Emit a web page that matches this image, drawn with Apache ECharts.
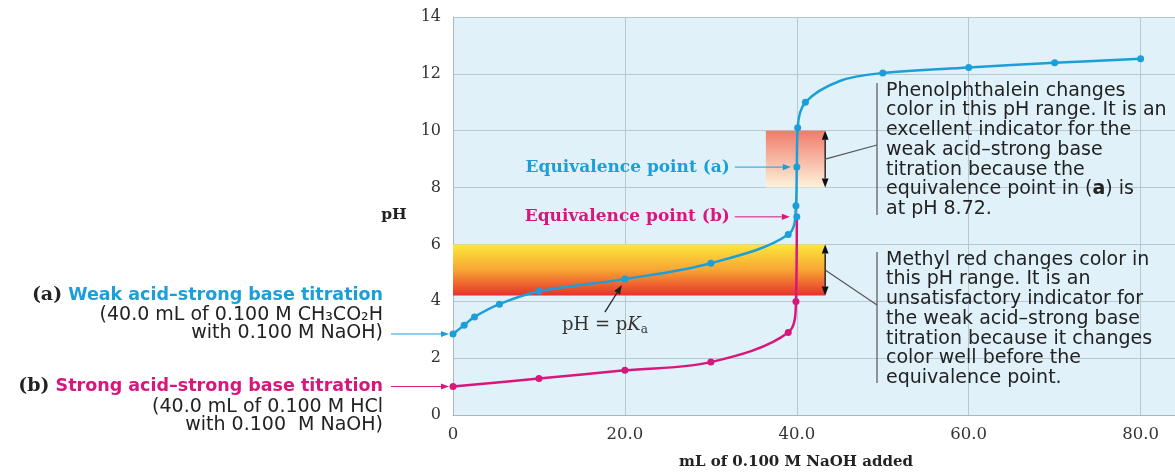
<!DOCTYPE html>
<html>
<head>
<meta charset="utf-8">
<script src="https://cdn.jsdelivr.net/npm/echarts@6.0.0/dist/echarts.min.js"></script>
<style>
  html, body { margin: 0; padding: 0; background: #fff; }
  #chart { width: 1175px; height: 475px; }
</style>
</head>
<body>
<div id="chart"></div>
<script>
// (a) weak acid: 40.0 mL 0.100 M CH3CO2H + 0.100 M NaOH
const volWeak = [0, 1.3, 2.5, 5.4, 10, 20, 30, 39, 39.9, 40, 40.1, 41, 45, 50, 60, 70, 80];
const phWeak = [2.85, 3.16, 3.45, 3.9, 4.35, 4.78, 5.34, 6.35, 7.36, 8.72, 10.1, 11.0, 11.75, 12.03, 12.22, 12.39, 12.53];
// no dot drawn at these volumes in the figure
const weakNoDot = [45];

// (b) strong acid: 40.0 mL 0.100 M HCl + 0.100 M NaOH
const volStrong = [0, 10, 20, 30, 39, 39.9, 40];
const phStrong = [1.0, 1.28, 1.57, 1.86, 2.9, 3.99, 6.97];

// indicator ranges [pH low, pH high] and the mL span of the shaded box
const phenolPH = [8.0, 10.0];
const phenolVol = [36.4, 43.3];
const methylPH = [4.2, 6.0];
const methylVol = [0, 43.3];

const eqA = [40, 8.72];
const eqB = [40, 6.97];
const halfEq = [20, 4.78];

const xTicks = [0, 20, 40, 60, 80];

const BLUE = '#1c9fd9';
const PINK = '#d8177c';
const SERIF = '"DejaVu Serif", serif';
const SANS = '"DejaVu Sans", sans-serif';
const FS = 19; // sans body text size

const chart = echarts.init(document.getElementById('chart'));

const weakData = volWeak.map((v, i) => {
  const item = { value: [v, phWeak[i]] };
  if (weakNoDot.includes(v)) item.symbolSize = 0;
  return item;
});
const strongData = volStrong.map((v, i) => {
  const item = { value: [v, phStrong[i]] };
  // the (b) equivalence dot sits on the blue curve
  if (v === eqB[0] && phStrong[i] === eqB[1]) item.itemStyle = { color: BLUE };
  return item;
});

chart.setOption({
  animation: false,
  grid: {
    left: 453, right: 0, top: 17, bottom: 58,
    show: true, backgroundColor: '#e0f1fa', borderWidth: 0
  },
  xAxis: {
    type: 'value', min: 0, max: 84, interval: 20,
    axisLine: { lineStyle: { color: '#a9b8c0' } },
    axisTick: { show: false },
    splitLine: { lineStyle: { color: '#b9c8cf' } },
    axisLabel: {
      showMaxLabel: false, margin: 11,
      fontFamily: SERIF, fontSize: 16.5, color: '#333',
      formatter: v => xTicks.includes(v) ? (v === 0 ? '0' : v.toFixed(1)) : ''
    },
    name: 'mL of 0.100 M NaOH added',
    nameLocation: 'middle', nameGap: 40,
    nameTextStyle: { fontFamily: SERIF, fontWeight: 'bold', fontSize: 15, color: '#222', padding: [0, 36, 0, 0] }
  },
  yAxis: {
    type: 'value', min: 0, max: 14, interval: 2,
    axisLine: { show: true, lineStyle: { color: '#a9b8c0' } },
    axisTick: { show: false },
    splitLine: { lineStyle: { color: '#b9c8cf' } },
    axisLabel: { margin: 12, fontFamily: SERIF, fontSize: 16, color: '#333' }
  },
  series: [
    {
      type: 'line', data: [], z: 1, silent: true,
      markArea: {
        silent: true,
        data: [
          [
            { coord: [phenolVol[0], phenolPH[1]], itemStyle: {
              color: new echarts.graphic.LinearGradient(0, 0, 0, 1, [
                { offset: 0, color: '#ef7c6a' }, { offset: 1, color: '#fdf3dc' }
              ]) } },
            { coord: [phenolVol[1], phenolPH[0]] }
          ],
          [
            { coord: [methylVol[0], methylPH[1]], itemStyle: {
              color: new echarts.graphic.LinearGradient(0, 0, 0, 1, [
                { offset: 0, color: '#fde93c' }, { offset: 0.5, color: '#f7a534' }, { offset: 1, color: '#e8302c' }
              ]) } },
            { coord: [methylVol[1], methylPH[0]] }
          ]
        ]
      }
    },
    {
      name: 'strong', type: 'line', z: 3, data: strongData,
      smooth: 0.35,
      lineStyle: { color: PINK, width: 2.5 },
      itemStyle: { color: PINK },
      symbol: 'circle', symbolSize: 7
    },
    {
      name: 'weak', type: 'line', z: 4, data: weakData,
      smooth: 0.35,
      lineStyle: { color: BLUE, width: 2.5 },
      itemStyle: { color: BLUE },
      symbol: 'circle', symbolSize: 7
    }
  ]
});

const px = (x, y) => chart.convertToPixel({ gridIndex: 0 }, [x, y]);

function arrow(x1, y1, x2, y2, color, head, w) {
  head = head || 8; w = w || 1;
  const a = Math.atan2(y2 - y1, x2 - x1);
  const hx = x2 - head * Math.cos(a), hy = y2 - head * Math.sin(a);
  const nx = -Math.sin(a) * head * 0.38, ny = Math.cos(a) * head * 0.38;
  return [
    { type: 'line', z: 100, shape: { x1, y1, x2: hx, y2: hy }, style: { stroke: color, lineWidth: w } },
    { type: 'polygon', z: 100, shape: { points: [[x2, y2], [hx + nx, hy + ny], [hx - nx, hy - ny]] }, style: { fill: color } }
  ];
}
function dblArrow(x, yTop, yBot) {
  const mid = (yTop + yBot) / 2;
  return arrow(x, mid, x, yTop, '#111', 9, 1.3).concat(arrow(x, mid, x, yBot, '#111', 9, 1.3));
}
function seg(x1, y1, x2, y2) {
  return { type: 'line', z: 100, shape: { x1, y1, x2, y2 }, style: { stroke: '#555', lineWidth: 1.2 } };
}
function txt(x, y, text, opt) {
  return {
    type: 'text', z: 100, x, y,
    style: Object.assign({
      text, fontFamily: SANS, fontSize: FS, fill: '#222',
      align: 'left', verticalAlign: 'middle'
    }, opt || {})
  };
}

const g = [];
const rich = {
  s: { fontFamily: SERIF, fontWeight: 'bold', fontSize: 19, fill: '#222' },
  blue: { fontFamily: SANS, fontWeight: 'bold', fontSize: 17.5, fill: BLUE },
  pink: { fontFamily: SANS, fontWeight: 'bold', fontSize: 17.5, fill: PINK }
};

// left-hand labels
const pA = px(volWeak[0], phWeak[0]);
const pB = px(volStrong[0], phStrong[0]);
g.push(txt(383, 295, '{s|(a)} {blue|Weak acid–strong base titration}', { align: 'right', rich }));
g.push(txt(383, 315, '(40.0 mL of 0.100 M CH₃CO₂H', { align: 'right' }));
g.push(txt(383, 333, 'with 0.100 M NaOH)', { align: 'right' }));
g.push(...arrow(391, pA[1], pA[0] - 4, pA[1], BLUE, 8, 1));
g.push(txt(383, 386, '{s|(b)} {pink|Strong acid–strong base titration}', { align: 'right', rich }));
g.push(txt(383, 407, '(40.0 mL of 0.100 M HCl', { align: 'right' }));
g.push(txt(383, 425, 'with 0.100  M NaOH)', { align: 'right' }));
g.push(...arrow(391, pB[1], pB[0] - 4, pB[1], PINK, 8, 1));

// y axis title
g.push(txt(394, 215, 'pH', { fontFamily: SERIF, fontWeight: 'bold', fontSize: 15.5, align: 'center' }));

// equivalence points
const pEA = px(eqA[0], eqA[1]);
const pEB = px(eqB[0], eqB[1]);
const eqFont = { fontFamily: SERIF, fontWeight: 'bold', fontSize: 17, align: 'right' };
g.push(txt(pEA[0] - 67, pEA[1], 'Equivalence point (a)', Object.assign({ fill: BLUE }, eqFont)));
g.push(...arrow(pEA[0] - 62, pEA[1], pEA[0] - 6, pEA[1], BLUE, 8, 1));
g.push(txt(pEB[0] - 67, pEB[1], 'Equivalence point (b)', Object.assign({ fill: PINK }, eqFont)));
g.push(...arrow(pEB[0] - 62, pEB[1], pEB[0] - 7, pEB[1], PINK, 8, 1));

// pH = pKa
const pH = px(halfEq[0], halfEq[1]);
g.push(txt(pH[0] - 20, pH[1] + 46, 'pH = p{i|K}{sub|a}', {
  fontFamily: SERIF, fontSize: 18, align: 'center', fill: '#333',
  rich: {
    i: { fontFamily: SERIF, fontStyle: 'italic', fontSize: 18, fill: '#333' },
    sub: { fontFamily: SERIF, fontSize: 12, fill: '#333', padding: [10, 0, 0, 0] }
  }
}));
g.push(...arrow(pH[0] - 20, pH[1] + 33, pH[0] - 3, pH[1] + 6, '#222', 9, 1.3));

// phenolphthalein range callout
const phTop = px(phenolVol[1], phenolPH[1]);
const phBot = px(phenolVol[1], phenolPH[0]);
const phMid = (phTop[1] + phBot[1]) / 2;
g.push(...dblArrow(phTop[0], phTop[1], phBot[1]));
g.push(seg(phTop[0], phMid, 877, 145));
g.push(seg(877, 83, 877, 215));
g.push(txt(886, 81, [
  'Phenolphthalein changes',
  'color in this pH range. It is an',
  'excellent indicator for the',
  'weak acid–strong base',
  'titration because the',
  'equivalence point in ({b|a}) is',
  'at pH 8.72.'
].join('\n'), { verticalAlign: 'top', lineHeight: 19.7, rich: { b: { fontFamily: SANS, fontWeight: 'bold', fontSize: FS, fill: '#222', lineHeight: 19.7 } } }));

// methyl red range callout
const mrTop = px(methylVol[1], methylPH[1]);
const mrBot = px(methylVol[1], methylPH[0]);
const mrMid = (mrTop[1] + mrBot[1]) / 2;
g.push(...dblArrow(mrTop[0], mrTop[1], mrBot[1]));
g.push(seg(mrTop[0], mrMid, 877, 305));
g.push(seg(877, 252, 877, 383));
g.push(txt(886, 250, [
  'Methyl red changes color in',
  'this pH range. It is an',
  'unsatisfactory indicator for',
  'the weak acid–strong base',
  'titration because it changes',
  'color well before the',
  'equivalence point.'
].join('\n'), { verticalAlign: 'top', lineHeight: 19.7 }));

chart.setOption({ graphic: { elements: g } });
</script>
</body>
</html>
